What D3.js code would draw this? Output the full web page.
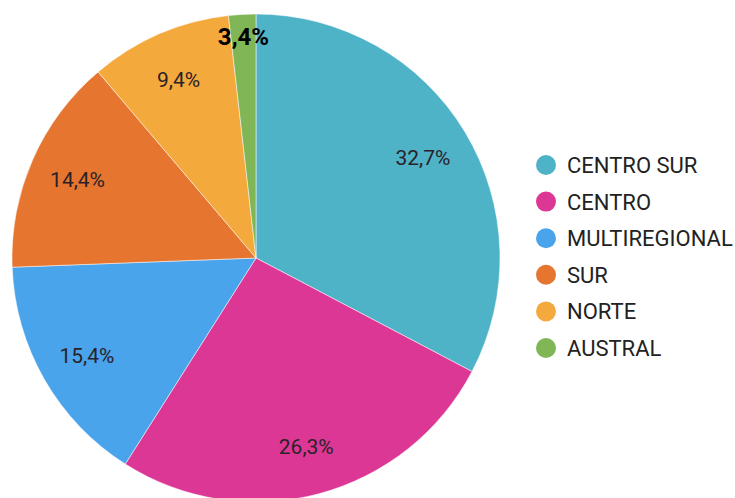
<!DOCTYPE html>
<html>
<head>
<meta charset="utf-8">
<script src="https://cdn.jsdelivr.net/npm/d3@7"></script>
<style>
  body { margin: 0; background: #fff; }
  svg { display: block; font-family: Roboto, "Noto Sans", sans-serif; }
</style>
</head>
<body>
<svg id="chart" width="735" height="498"></svg>
<script>
// regions and their share (%)
const regions = ['CENTRO SUR', 'CENTRO', 'MULTIREGIONAL', 'SUR', 'NORTE', 'AUSTRAL']
const shares = [32.7, 26.3, 15.4, 14.4, 9.4, 3.4]
const labels = ['32,7%', '26,3%', '15,4%', '14,4%', '9,4%', '3,4%']
const colors = ['#4fb3c8', '#dc3794', '#4aa4ec', '#e6752f', '#f4a93c', '#80b655']

const svg = d3.select('#chart')
const cx = 256, cy = 258, radius = 244

const data = regions.map((r, i) => ({ region: r, value: shares[i], label: labels[i], color: colors[i] }))

// shares are percents of a full circle (they add up to a bit more than 100),
// so angles come from a percent scale and the last slice is cut at 12 o'clock
const angle = d3.scaleLinear().domain([0, 100]).range([0, 2 * Math.PI])
const ends = Array.from(d3.cumsum(shares))

const arcs = data.map((d, i) => ({
  data: d,
  startAngle: angle(i ? ends[i - 1] : 0),
  endAngle: Math.min(angle(ends[i]), 2 * Math.PI)
}))

const arc = d3.arc().innerRadius(0).outerRadius(radius)
const labelArc = d3.arc().innerRadius(195).outerRadius(195)
const edgeArc = d3.arc().innerRadius(222).outerRadius(222)

const g = svg.append('g').attr('transform', `translate(${cx},${cy})`)

g.selectAll('path')
  .data(arcs)
  .enter()
  .append('path')
    .attr('d', arc)
    .attr('fill', d => d.data.color)
    .attr('stroke', '#fff')
    .attr('stroke-width', 0.5)

// percentage labels
const last = arcs.length - 1
g.selectAll('text')
  .data(arcs)
  .enter()
  .append('text')
    .attr('transform', (d, i) => {
      const p = i === last ? edgeArc.centroid(d) : labelArc.centroid(d)
      return `translate(${p[0]},${p[1]})`
    })
    .attr('text-anchor', 'middle')
    .attr('dy', '0.36em')
    .attr('fill', (d, i) => i === last ? '#000' : '#2a2228')
    .style('font-size', (d, i) => i === last ? '24px' : '21px')
    .style('font-weight', (d, i) => i === last ? 'bold' : 'normal')
    .text(d => d.data.label)

// legend
const legend = svg.append('g').attr('transform', 'translate(546,165)')

const item = legend.selectAll('g')
  .data(data)
  .enter()
  .append('g')
    .attr('transform', (d, i) => `translate(0,${i * 36.6})`)

item.append('circle')
  .attr('r', 10)
  .attr('fill', d => d.color)

item.append('text')
  .attr('x', 21)
  .attr('dy', '0.36em')
  .attr('fill', '#222')
  .style('font-size', '22px')
  .text(d => d.region)
</script>
</body>
</html>
